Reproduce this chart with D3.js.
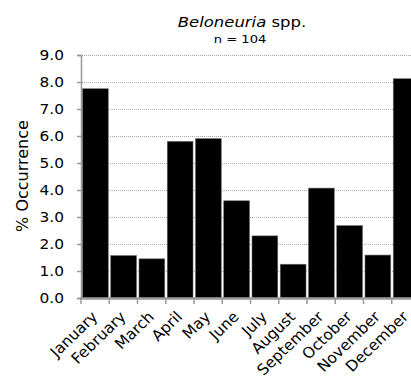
<!DOCTYPE html>
<html><head><meta charset="utf-8">
<script src="https://cdn.jsdelivr.net/npm/d3@7"></script>
<style>body{margin:0;background:#fff}svg{display:block}</style>
</head><body>
<svg id="c" width="411" height="382"></svg>
<script>
const months = ["January","February","March","April","May","June","July","August","September","October","November","December"];
const occurrence = [7.75,1.57,1.45,5.8,5.9,3.6,2.3,1.25,4.07,2.68,1.59,8.12];
const yTicks = [0,1,2,3,4,5,6,7,8,9];

const svg = d3.select("#c");
const font = "DejaVu Sans, Verdana, sans-serif";
const x = d3.scaleBand().domain(months).range([81, 420]).paddingInner(0).paddingOuter(0);
const y = d3.scaleLinear().domain([0, 9]).range([298, 55]);

function stretch(sel, sx, ax) {
  sel.attr("transform", `translate(${ax},0) scale(${sx},1) translate(${-ax},0)`);
}

// grid
svg.append("g").selectAll("line").data(yTicks.slice(1)).join("line")
  .attr("x1", 82).attr("x2", 411)
  .attr("y1", d => y(d) + 0.5).attr("y2", d => y(d) + 0.5)
  .attr("stroke", "#a8a8a8").attr("stroke-width", 1).attr("stroke-dasharray", "1,1");

// bars
svg.append("g").selectAll("rect").data(months).join("rect")
  .attr("x", d => x(d) + 1.5)
  .attr("width", x.bandwidth() - 2.5)
  .attr("y", (d, i) => y(occurrence[i]))
  .attr("height", (d, i) => y(0) - y(occurrence[i]))
  .attr("fill", "#000").attr("stroke", "#666").attr("stroke-width", 0.6);

// y axis
const ya = svg.append("g").attr("transform", "translate(81,0)")
  .call(d3.axisLeft(y).tickValues(yTicks).tickFormat(d3.format(".1f")).tickSize(4).tickPadding(0));
ya.select(".domain").attr("stroke", "#999").attr("stroke-width", 1.5);
ya.selectAll(".tick line").attr("stroke", "#999").attr("stroke-width", 1.5);
ya.selectAll(".tick text").attr("x", -17).attr("font-family", font).attr("font-size", 14).attr("fill", "#000")
  .each(function () { stretch(d3.select(this), 1.1, -17); });

// x axis
const xa = svg.append("g").attr("transform", "translate(0,298)");
xa.append("line").attr("x1", 80).attr("x2", 411).attr("y1", 0.5).attr("y2", 0.5)
  .attr("stroke", "#999").attr("stroke-width", 2.5);
xa.selectAll("line.t").data(months).join("line").attr("class", "t")
  .attr("x1", d => x(d)).attr("x2", d => x(d))
  .attr("y1", 0).attr("y2", 6).attr("stroke", "#999").attr("stroke-width", 1.5);
xa.selectAll("text").data(months).join("text")
  .attr("transform", d => `translate(${x(d) + x.bandwidth() / 2 - 0.5},${16}) scale(1.04,1) rotate(-45)`)
  .attr("text-anchor", "end").attr("dy", "0.35em")
  .attr("font-family", font).attr("font-size", 15).attr("fill", "#000")
  .text(d => d);

// y label
svg.append("text").attr("transform", "translate(27.5,176) rotate(-90)")
  .attr("text-anchor", "middle").attr("font-family", font).attr("font-size", 16)
  .text("% Occurrence");

// title
const t = svg.append("text").attr("x", 242).attr("y", 27).attr("text-anchor", "middle")
  .attr("font-family", font).attr("font-size", 13.5);
t.append("tspan").attr("font-style", "italic").text("Beloneuria");
t.append("tspan").text(" spp.");
stretch(t, 1.22, 242);
const n = svg.append("text").attr("x", 240).attr("y", 43.3).attr("text-anchor", "middle")
  .attr("font-family", font).attr("font-size", 10.5).text("n = 104");
stretch(n, 1.25, 240);
</script>
</body></html>
